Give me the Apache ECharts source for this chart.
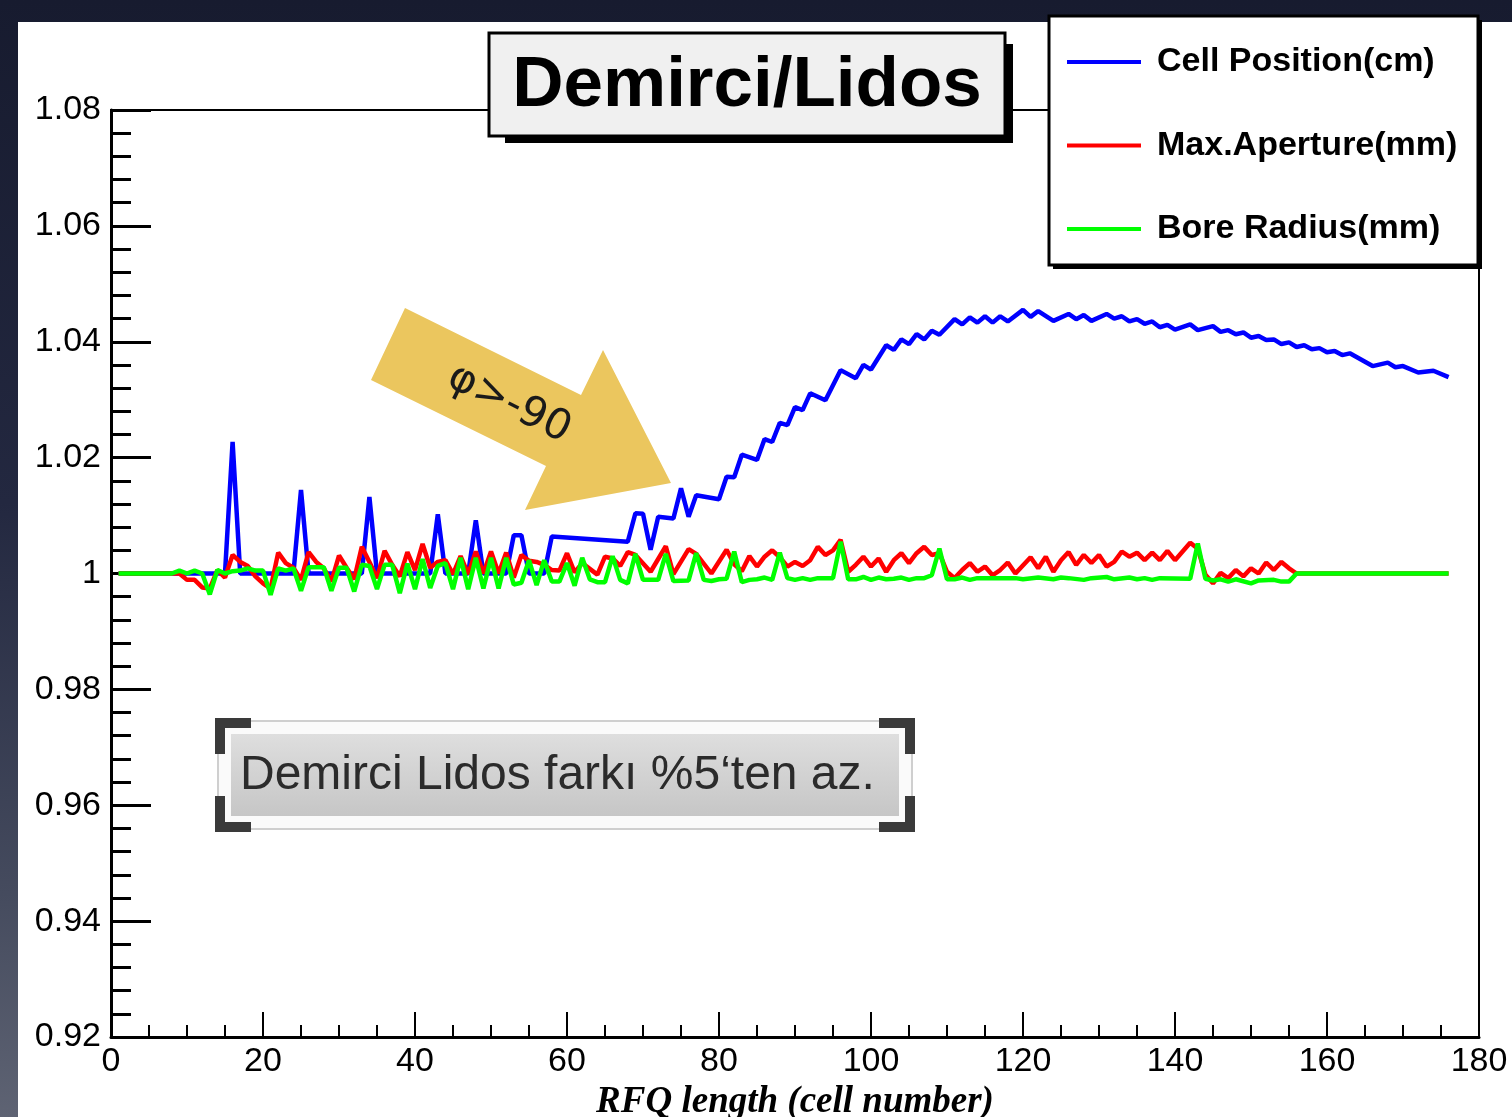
<!DOCTYPE html>
<html><head><meta charset="utf-8">
<script src="https://cdn.jsdelivr.net/npm/echarts@6/dist/echarts.min.js"></script>
<style>
html,body{margin:0;padding:0;width:1512px;height:1117px;overflow:hidden;}
body{background:linear-gradient(180deg,#171b2f 0%,#232840 45%,#454b5e 80%,#5e6373 100%);}
#panel{position:absolute;left:18px;top:22px;right:0;bottom:0;background:#fff;}
#chart{position:absolute;left:0;top:0;width:1512px;height:1117px;}
</style></head><body><div id="panel"></div><div id="chart"></div>
<script>
// ---- data (cell number, ratio Demirci/Lidos) ----
const seriesNames = ['Cell Position(cm)', 'Max.Aperture(mm)', 'Bore Radius(mm)'];
const xTickValues = [0, 20, 40, 60, 80, 100, 120, 140, 160, 180];
const yTickValues = [0.92, 0.94, 0.96, 0.98, 1.00, 1.02, 1.04, 1.06, 1.08];

const cellPosition = [
 [1,1.0],[15,1.0],[16,1.0227],[17,1.0],[24,1.0],[25,1.0144],[26,1.0],[33,1.0],[34,1.0132],[35,1.0],
 [42,1.0],[43,1.0102],[44,1.0],[47,1.0],[48,1.0092],[49,1.0],[52,1.0],[53,1.0066],[54,1.0066],[55,1.0],
 [57,1.0],[58,1.0064],[68,1.0055],[69,1.0104],[70,1.0103],[71,1.0041],[72,1.0098],[74,1.0095],[75,1.0147],
 [76,1.0098],[77,1.0135],[80,1.0128],[81,1.0167],[82,1.0166],[83,1.0205],[85,1.0196],[86,1.0232],[87,1.0227],
 [88,1.026],[89,1.0256],[90,1.0287],[91,1.0282],[92,1.0311],[94,1.0299],[96,1.0351],[98,1.0337],[99,1.036],
 [100,1.0352],[102,1.0394],[103,1.0386],[104,1.0404],[105,1.0396],[106,1.0413],[107,1.0404],[108,1.0419],
 [109,1.0412],[111,1.0439],[112,1.043],[113,1.0442],[114,1.0433],[115,1.0444],[116,1.0433],[117,1.0444],
 [118,1.0435],[120,1.0455],[121,1.0443],[122,1.0453],[124,1.0436],[126,1.0448],[127,1.0439],[128,1.0446],
 [129,1.0436],[131,1.0448],[132,1.044],[133,1.0444],[134,1.0435],[135,1.0439],[136,1.0431],[137,1.0435],
 [138,1.0425],[139,1.0429],[140,1.0421],[142,1.043],[143,1.042],[145,1.0427],[146,1.0417],[147,1.042],
 [148,1.0413],[149,1.0416],[150,1.0407],[151,1.041],[152,1.0403],[153,1.0404],[154,1.0396],[155,1.0399],
 [156,1.0391],[157,1.0394],[158,1.0387],[159,1.0389],[160,1.0382],[161,1.0384],[162,1.0377],[163,1.038],
 [166,1.0358],[168,1.0364],[169,1.0356],[170,1.0358],[172,1.0347],[174,1.035],[176,1.0339]
];

const maxAperture = [
 [1,1.0],[8,1.0],[9,1.0],[10,0.9989],[11,0.9989],[12,0.9976],[13,0.9974],[14,1.0006],[15,0.9993],[16,1.0032],
 [17,1.002],[18,1.0013],[19,0.9995],[20,0.9983],[21,0.9974],[22,1.0036],[23,1.0018],[24,1.001],[25,0.9989],
 [26,1.0037],[27,1.002],[28,1.0009],[29,0.9986],[30,1.0031],[31,1.001],[32,0.999],[33,1.0046],[34,1.002],
 [35,0.9992],[36,1.0039],[37,1.0015],[38,0.9995],[39,1.0037],[40,1.0006],[41,1.0051],[42,1.001],[43,1.002],
 [44,1.0023],[45,0.9999],[46,1.003],[47,0.9999],[48,1.0038],[49,1.0],[50,1.0038],[51,1.0],[52,1.0036],
 [53,0.9993],[54,1.0032],[55,1.0022],[56,1.002],[57,1.0015],[58,1.0006],[59,1.0005],[60,1.0035],[61,1.0002],
 [62,1.0018],[63,1.0008],[64,0.9998],[65,1.0029],[66,1.0026],[67,1.0013],[68,1.0037],[69,1.0032],[71,1.0003],
 [73,1.0047],[74,0.9999],[76,1.0042],[77,1.0034],[79,1.0],[81,1.0041],[82,1.0016],[83,1.0004],[84,1.003],
 [85,1.0012],[86,1.0029],[87,1.004],[88,1.0028],[89,1.0012],[90,1.002],[91,1.0013],[92,1.0023],[93,1.0046],
 [94,1.0032],[95,1.004],[96,1.0058],[97,1.0003],[98,1.0015],[99,1.0029],[100,1.0012],[101,1.0026],[102,1.0003],
 [103,1.0023],[104,1.0035],[105,1.0018],[106,1.0035],[107,1.0046],[108,1.0032],[109,1.0035],[110,1.0003],
 [111,0.9992],[112,1.0006],[113,1.0018],[114,1.0003],[115,1.0012],[116,0.9997],[117,1.0006],[118,1.0019],
 [119,1.0],[121,1.0028],[122,1.0009],[123,1.0029],[124,1.0003],[125,1.0023],[126,1.0037],[127,1.0015],
 [128,1.0032],[129,1.0018],[130,1.0032],[131,1.0012],[132,1.002],[133,1.0038],[134,1.0029],[135,1.0036],
 [136,1.0023],[137,1.0036],[138,1.0023],[139,1.0039],[140,1.0023],[142,1.0053],[143,1.0043],[144,0.9998],
 [145,0.9983],[146,1.0001],[147,0.9992],[148,1.0006],[149,0.9995],[150,1.0009],[151,1.0],[152,1.0019],
 [153,1.0006],[154,1.002],[155,1.0009],[156,1.0],[176,1.0]
];

const boreRadius = [
 [1,1.0],[8,1.0],[9,1.0005],[10,1.0],[11,1.0005],[12,1.0],[13,0.9964],[14,1.0006],[15,1.0],[16,1.0004],
 [17,1.0005],[18,1.0009],[19,1.0005],[20,1.0005],[21,0.9963],[22,1.0009],[23,1.0005],[24,1.0009],[25,0.997],
 [26,1.0011],[27,1.0011],[28,1.0011],[29,0.997],[30,1.001],[31,1.001],[32,0.9969],[33,1.0015],[34,1.0013],
 [35,0.9973],[36,1.0015],[37,1.0015],[38,0.9966],[39,1.0017],[40,0.9973],[41,1.0025],[42,0.9975],[43,1.0013],
 [44,1.0018],[45,0.9973],[46,1.0027],[47,0.9973],[48,1.0027],[49,0.9974],[50,1.0027],[51,0.9974],[52,1.0027],
 [53,0.9981],[54,0.9984],[55,1.0023],[56,0.998],[57,1.0023],[58,0.9986],[59,0.9986],[60,1.0018],[61,0.9979],
 [62,1.0027],[63,0.999],[64,0.9985],[65,0.9985],[66,1.003],[67,0.9989],[68,0.9983],[69,1.0034],[70,0.9989],
 [72,0.9989],[73,1.0034],[74,0.9987],[76,0.9988],[77,1.0035],[78,0.9989],[79,0.9987],[80,0.999],[81,0.9991],
 [82,1.0038],[83,0.9985],[84,0.9989],[85,0.999],[86,0.9993],[87,0.9989],[88,1.0036],[89,0.9992],[90,0.9989],
 [91,0.9992],[92,0.9989],[93,0.9992],[95,0.9992],[96,1.0055],[97,0.999],[98,0.999],[99,0.9994],[100,0.9989],
 [101,0.9993],[102,0.999],[103,0.9991],[104,0.9993],[105,0.9989],[106,0.9992],[107,0.9992],[108,0.9997],
 [109,1.0043],[110,0.999],[111,0.999],[112,0.9993],[113,0.9989],[114,0.9992],[116,0.9992],[119,0.9992],
 [120,0.999],[122,0.9993],[124,0.999],[125,0.9993],[126,0.9992],[128,0.9989],[129,0.9992],[131,0.9994],
 [132,0.999],[134,0.9993],[135,0.999],[136,0.9992],[137,0.9989],[138,0.9992],[142,0.9991],[143,1.0052],
 [144,0.9991],[145,0.9988],[146,0.999],[147,0.9986],[148,0.999],[150,0.9983],[151,0.9988],[153,0.9989],
 [154,0.9986],[155,0.9986],[156,1.0],[176,1.0]
];

const seriesColors = ['#0000ff', '#ff0000', '#00ff00'];
const seriesData = [cellPosition, maxAperture, boreRadius];

// ---- chart ----
const chart = echarts.init(document.getElementById('chart'), null, {renderer: 'canvas'});
const FONT = 'Liberation Sans, Arial, Helvetica, sans-serif';

const option = {
  animation: false,
  backgroundColor: 'transparent',
  grid: {left: 111, right: 33, top: 110, bottom: 80, show: true, borderColor: '#000', borderWidth: 2,
    backgroundColor: 'transparent', containLabel: false, outerBoundsMode: 'none'},
  xAxis: {
    type: 'value', min: xTickValues[0], max: xTickValues[xTickValues.length - 1], interval: 20,
    axisLine: {show: true, onZero: false, lineStyle: {color: '#000', width: 3}},
    axisTick: {show: true, inside: true, length: 25, lineStyle: {color: '#000', width: 2}},
    minorTick: {show: true, splitNumber: 4, length: 12, lineStyle: {color: '#000', width: 2}},
    splitLine: {show: false},
    axisLabel: {color: '#000', fontSize: 34, fontFamily: FONT, margin: 8, showMinLabel: true, showMaxLabel: true},
    name: 'RFQ length (cell number)', nameLocation: 'middle', nameGap: 45,
    nameTextStyle: {color: '#000', fontSize: 37, fontFamily: 'Liberation Serif, Times New Roman, serif', fontStyle: 'italic', fontWeight: 'bold', verticalAlign: 'top'}
  },
  yAxis: {
    type: 'value', min: yTickValues[0], max: yTickValues[yTickValues.length - 1], interval: 0.02,
    axisLine: {show: true, onZero: false, lineStyle: {color: '#000', width: 3}},
    axisTick: {show: true, inside: true, length: 40, lineStyle: {color: '#000', width: 3}},
    minorTick: {show: true, splitNumber: 5, length: 20, lineStyle: {color: '#000', width: 3}},
    splitLine: {show: false},
    axisLabel: {color: '#000', fontSize: 34, fontFamily: FONT, margin: 10, showMinLabel: true, showMaxLabel: true,
      formatter: v => String(Number(v.toFixed(2)))}
  },
  legend: {
    orient: 'vertical', left: 1067, top: 42, padding: 0, itemWidth: 74, itemHeight: 4, itemGap: 43.5, icon: 'rect',
    textStyle: {fontFamily: FONT, fontWeight: 'bold', fontSize: 34, color: '#000', lineHeight: 40, padding: [0, 0, 0, 11]},
    data: seriesNames, z: 20, selectedMode: false
  },
  series: seriesNames.map((n, i) => ({
    name: n, type: 'line', data: seriesData[i], symbol: 'none', showSymbol: false,
    color: seriesColors[i], lineStyle: {color: seriesColors[i], width: 4.5}, z: 3 + i
  })),
  graphic: [
    // title box with shadow
    {type: 'rect', z: 10, shape: {x: 505, y: 44, width: 508, height: 99}, style: {fill: '#000'}},
    {type: 'rect', z: 11, shape: {x: 489, y: 33, width: 516, height: 103}, style: {fill: '#f0f0f0', stroke: '#000', lineWidth: 3}},
    {type: 'text', z: 12, style: {x: 747, y: 86, text: 'Demirci/Lidos', align: 'center', verticalAlign: 'middle', fill: '#000', font: 'bold 71px ' + FONT}},
    // legend box with shadow
    {type: 'rect', z: 10, shape: {x: 1053, y: 20, width: 429, height: 249}, style: {fill: '#000'}},
    {type: 'rect', z: 11, shape: {x: 1049, y: 16, width: 429, height: 249}, style: {fill: '#fff', stroke: '#000', lineWidth: 3}},
    // yellow arrow
    {type: 'polygon', z: 12, shape: {points: [[405,308],[581,395],[603,350],[671,483],[525,510],[546,466],[371,380]]},
      style: {fill: '#ebc65e'}},
    {type: 'text', z: 13, x: 509, y: 404, rotation: -26 * Math.PI / 180,
      style: {x: 0, y: 0, text: 'φ>-90', align: 'center', verticalAlign: 'middle', fill: '#1a1a1a', font: '42px DejaVu Sans, sans-serif'}},
    // annotation box
    {type: 'rect', z: 12, shape: {x: 218, y: 721, width: 694, height: 108}, style: {fill: '#fafafa', stroke: '#cfcfcf', lineWidth: 2}},
    {type: 'rect', z: 13, shape: {x: 231, y: 734, width: 668, height: 82},
      style: {fill: new echarts.graphic.LinearGradient(0, 0, 0, 1, [{offset: 0, color: '#dedede'}, {offset: 1, color: '#c6c6c6'}])}},
    {type: 'polyline', z: 14, shape: {points: [[220,754],[220,723],[251,723]]}, style: {stroke: '#3a3a3a', lineWidth: 10, fill: null}},
    {type: 'polyline', z: 14, shape: {points: [[879,723],[910,723],[910,754]]}, style: {stroke: '#3a3a3a', lineWidth: 10, fill: null}},
    {type: 'polyline', z: 14, shape: {points: [[220,796],[220,827],[251,827]]}, style: {stroke: '#3a3a3a', lineWidth: 10, fill: null}},
    {type: 'polyline', z: 14, shape: {points: [[879,827],[910,827],[910,796]]}, style: {stroke: '#3a3a3a', lineWidth: 10, fill: null}},
    {type: 'text', z: 15, style: {x: 240, y: 776, text: 'Demirci Lidos farkı %5‘ten az.', align: 'left', verticalAlign: 'middle', fill: '#2b2b2b', font: '48px ' + FONT}}
  ]
};
chart.setOption(option);
</script></body></html>
